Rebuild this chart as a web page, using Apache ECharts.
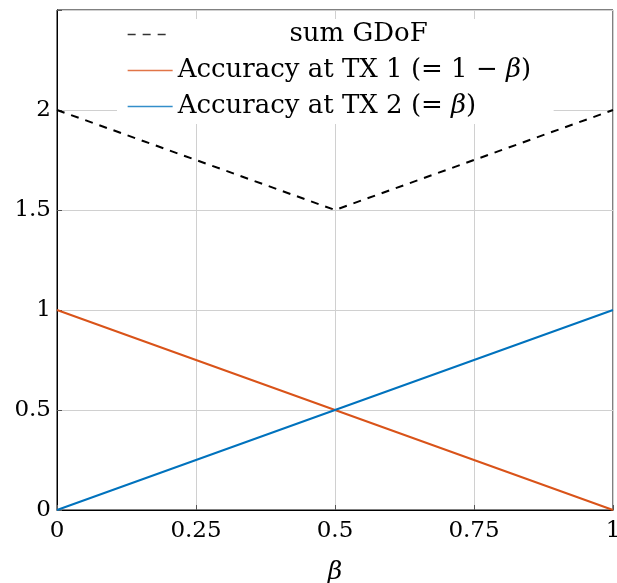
<!DOCTYPE html>
<html>
<head>
<meta charset="utf-8">
<script src="https://cdn.jsdelivr.net/npm/echarts@6/dist/echarts.min.js"></script>
<style>html,body{margin:0;padding:0;background:#fff}#c{width:617px;height:583px}</style>
</head>
<body>
<div id="c"></div>
<script>
const betaValues = [0, 0.5, 1];
const sumGDoF = [2, 1.5, 2];
const accTX1 = [1, 0.5, 0];
const accTX2 = [0, 0.5, 1];
const seriesNames = ['sum GDoF', 'Accuracy at TX 1 (= 1 − β)', 'Accuracy at TX 2 (= β)'];
const xTicks = [0, 0.25, 0.5, 0.75, 1];
const yTicks = [0, 0.5, 1, 1.5, 2];

const FONT = 'DejaVu Serif';
const FS = 23;
const LFS = 26;
const pair = (ys) => betaValues.map((x, i) => [x, ys[i]]);

const chart = echarts.init(document.getElementById('c'), null, {renderer: 'canvas'});
chart.setOption({
  animation: false,
  backgroundColor: '#fff',
  grid: {left: 57, right: 4, top: 10, bottom: 73, show: true, borderColor: '#000', borderWidth: 1,
    backgroundColor: 'transparent', containLabel: false, outerBoundsMode: 'none'},
  xAxis: {
    type: 'value', min: 0, max: 1, interval: 0.25,
    name: 'β', nameLocation: 'middle', nameGap: 50,
    nameTextStyle: {fontFamily: FONT, fontSize: 25, fontStyle: 'italic', color: '#000'},
    axisLine: {show: true, lineStyle: {color: '#000', width: 1}},
    axisTick: {show: true, inside: true, length: 5, lineStyle: {color: '#555'}},
    axisLabel: {fontFamily: FONT, fontSize: FS, color: '#000', margin: 10,
      formatter: v => xTicks.includes(v) ? String(v) : ''},
    splitLine: {show: true, lineStyle: {color: '#d0d0d0', width: 1}}
  },
  yAxis: {
    type: 'value', min: 0, max: 2.5, interval: 0.5,
    axisLine: {show: true, lineStyle: {color: '#000', width: 1}},
    axisTick: {show: true, inside: true, length: 5, lineStyle: {color: '#555'}},
    axisLabel: {fontFamily: FONT, fontSize: FS, color: '#000', margin: 6,
      formatter: v => yTicks.includes(v) ? String(v) : ''},
    splitLine: {show: true, lineStyle: {color: '#d0d0d0', width: 1}}
  },
  legend: {
    orient: 'vertical', left: 117, top: 19, itemGap: 9,
    itemWidth: 45, itemHeight: 14,
    backgroundColor: '#fff', padding: [2, 14, 4, 10],
    data: seriesNames,
    itemStyle: {opacity: 0},
    lineStyle: {width: 1.3, opacity: 0.8},
    textStyle: {fontFamily: FONT, fontSize: LFS, color: '#000', lineHeight: 27,
      rich: {
        c: {fontFamily: FONT, fontSize: LFS, lineHeight: 27, width: 362, align: 'center', color: '#000'},
        l: {fontFamily: FONT, fontSize: LFS, lineHeight: 27, color: '#000'},
        i: {fontFamily: FONT, fontSize: LFS, lineHeight: 27, fontStyle: 'italic', color: '#000'}
      }},
    formatter: name => {
      if (name === seriesNames[0]) return '{c|' + name + '}';
      const parts = name.split('β');
      return '{l|' + parts[0] + '}{i|β}{l|' + parts[1] + '}';
    }
  },
  series: [
    {name: seriesNames[0], type: 'line', data: pair(sumGDoF), symbol: 'none', z: 3,
      lineStyle: {color: '#000', width: 2, type: [8, 7]}, itemStyle: {color: '#000'}},
    {name: seriesNames[1], type: 'line', data: pair(accTX1), symbol: 'none',
      lineStyle: {color: '#D95319', width: 2}, itemStyle: {color: '#D95319'}},
    {name: seriesNames[2], type: 'line', data: pair(accTX2), symbol: 'none',
      lineStyle: {color: '#0072BD', width: 2}, itemStyle: {color: '#0072BD'}}
  ]
});
</script>
</body>
</html>
